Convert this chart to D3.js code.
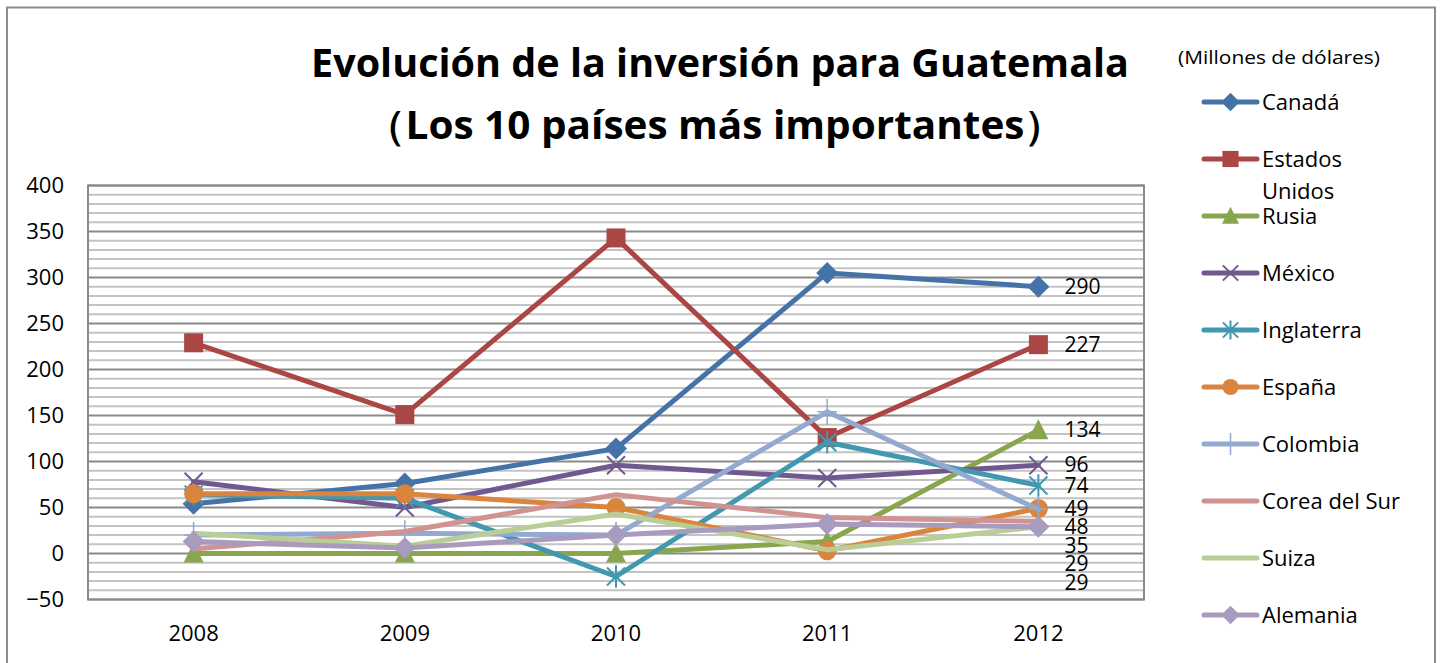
<!DOCTYPE html>
<html><head><meta charset="utf-8">
<script src="https://cdn.jsdelivr.net/npm/d3@7"></script>
<style>body{margin:0;background:#fff}svg{display:block}text{font-family:"Open Sans","Liberation Sans",sans-serif}</style>
</head><body><svg id="c" width="1443" height="663"></svg>
<script>
const years = ["2008","2009","2010","2011","2012"];
const seriesNames = ["Canadá","Estados Unidos","Rusia","México","Inglaterra","España","Colombia","Corea del Sur","Suiza","Alemania"];
const canada = [54, 76, 114, 305, 290];
const estadosUnidos = [229, 151, 343, 126, 227];
const rusia = [0, 0, 0, 13, 134];
const mexico = [78, 50, 96, 82, 96];
const inglaterra = [64, 60, -25, 121, 74];
const espana = [65, 65, 50, 3, 49];
const colombia = [20, 22, 20, 154, 48];
const corea = [5, 24, 64, 39, 35];
const suiza = [22, 8, 43, 4, 29];
const alemania = [13, 6, 20, 32, 29];
const yTicks = [-50, 0, 50, 100, 150, 200, 250, 300, 350, 400];
const colors = ["#4572A7","#AA4643","#89A54E","#71588F","#4198AF","#DB843D","#93A9CF","#D19392","#B9CD96","#A99BBD"];
const markers = ["diamond","square","triangle","x","asterisk","circle","plus","none","none","diamond"];
const values = [canada, estadosUnidos, rusia, mexico, inglaterra, espana, colombia, corea, suiza, alemania];

const svg = d3.select("#c");
svg.append("rect").attr("x",7).attr("y",7.5).attr("width",1428).attr("height",670)
  .attr("fill","none").attr("stroke","#8c8c8c").attr("stroke-width",2);

const L=88, R=1144, T=185.5, B=599.5;
const x = d3.scaleBand().domain(years).range([L,R]);
const y = d3.scaleLinear().domain([-50,400]).range([B,T]);

const minor = d3.range(-50, 401, 10);
svg.append("g").selectAll("line").data(minor.filter(v=>v%50!==0)).join("line")
  .attr("x1",L).attr("x2",R).attr("y1",d=>y(d)).attr("y2",d=>y(d))
  .attr("stroke","#c3c3c3").attr("stroke-width",2);
svg.append("g").selectAll("line").data(yTicks).join("line")
  .attr("x1",L).attr("x2",R).attr("y1",d=>y(d)).attr("y2",d=>y(d))
  .attr("stroke","#8a8a8a").attr("stroke-width",2);
svg.append("rect").attr("x",L).attr("y",T).attr("width",R-L).attr("height",B-T)
  .attr("fill","none").attr("stroke","#8a8a8a").attr("stroke-width",2);

const yAxis = d3.axisLeft(y).tickValues(yTicks).tickSize(0).tickPadding(24);
const gy = svg.append("g").attr("transform",`translate(${L},0)`).call(yAxis);
gy.select(".domain").remove();
gy.selectAll("text").attr("font-size",22).attr("fill","#000").style("font-family","'Open Sans',sans-serif");
const xAxis = d3.axisBottom(x).tickSize(0).tickPadding(26);
const gx = svg.append("g").attr("transform",`translate(0,${B})`).call(xAxis);
gx.select(".domain").remove();
gx.selectAll("text").attr("font-size",22).attr("fill","#000").style("font-family","'Open Sans',sans-serif");

const cx = d => x(d) + x.bandwidth()/2;
const line = d3.line().x((d,i)=>cx(years[i])).y(d=>y(d));

function drawMarker(g, type, color, px, py, s) {
  s = s || 1;
  if (type==="diamond") {
    const r=11*s;
    g.append("path").attr("d",`M${px},${py-r}L${px+r},${py}L${px},${py+r}L${px-r},${py}Z`).attr("fill",color);
  } else if (type==="square") {
    const r=9.5*s;
    g.append("rect").attr("x",px-r).attr("y",py-r).attr("width",2*r).attr("height",2*r).attr("fill",color);
  } else if (type==="triangle") {
    const r=10*s;
    g.append("path").attr("d",`M${px},${py-r*1.1}L${px+r},${py+r*0.9}L${px-r},${py+r*0.9}Z`).attr("fill",color);
  } else if (type==="circle") {
    g.append("circle").attr("cx",px).attr("cy",py).attr("r",9.5*s).attr("fill",color);
  } else if (type==="x") {
    const r=9*s;
    g.append("path").attr("d",`M${px-r},${py-r}L${px+r},${py+r}M${px-r},${py+r}L${px+r},${py-r}`).attr("stroke",color).attr("stroke-width",2);
  } else if (type==="asterisk") {
    const r=9*s;
    g.append("path").attr("d",`M${px-r},${py-r}L${px+r},${py+r}M${px-r},${py+r}L${px+r},${py-r}M${px},${py-r*1.25}L${px},${py+r*1.25}`).attr("stroke",color).attr("stroke-width",2);
  } else if (type==="plus") {
    const r=13*s;
    g.append("path").attr("d",`M${px},${py-r}L${px},${py+r}M${px-r*0.75},${py}L${px+r*0.75},${py}`).attr("stroke",color).attr("stroke-width",1.5);
  }
}

values.forEach((vals,k)=>{
  const g = svg.append("g");
  g.append("path").attr("d",line(vals)).attr("fill","none").attr("stroke",colors[k])
    .attr("stroke-width",5).attr("stroke-linejoin","round").attr("stroke-linecap","round");
  vals.forEach((v,i)=>drawMarker(g, markers[k], colors[k], cx(years[i]), y(v)));
});

// data labels on last point, de-overlapped downward
const labs = values.map((vals,k)=>({v:vals[vals.length-1], k, yy:y(vals[vals.length-1])}))
  .sort((a,b)=>a.yy-b.yy);
const gap = 18.5;
for (let i=1;i<labs.length;i++){ if (labs[i].yy < labs[i-1].yy+gap) labs[i].yy = labs[i-1].yy+gap; }
const lx = cx(years[years.length-1]) + 26;
svg.append("g").selectAll("text").data(labs).join("text")
  .attr("x",lx).attr("y",d=>d.yy).attr("dy","0.34em")
  .attr("font-size",21).attr("fill","#000").text(d=>d.v);

svg.append("text").attr("x",720).attr("y",77).attr("text-anchor","middle")
  .attr("font-size",40).attr("font-weight","bold").attr("textLength",818).attr("lengthAdjust","spacingAndGlyphs")
  .text("Evolución de la inversión para Guatemala");
svg.append("text").attr("x",715).attr("y",139).attr("text-anchor","middle")
  .attr("font-size",40).attr("font-weight","bold").attr("textLength",700).attr("lengthAdjust","spacingAndGlyphs")
  .text("（Los 10 países más importantes）");

svg.append("text").attr("x",1279).attr("y",64).attr("text-anchor","middle")
  .attr("font-size",19).attr("textLength",202).attr("lengthAdjust","spacingAndGlyphs").text("(Millones de dólares)");

const lg = svg.append("g");
seriesNames.forEach((name,k)=>{
  const ly = 102 + k*57;
  lg.append("line").attr("x1",1204).attr("x2",1257).attr("y1",ly).attr("y2",ly)
    .attr("stroke",colors[k]).attr("stroke-width",5).attr("stroke-linecap","round");
  drawMarker(lg, markers[k], colors[k], 1230.5, ly, 0.85);
  const t = lg.append("text").attr("x",1262).attr("y",ly).attr("dy","0.36em").attr("font-size",22).attr("fill","#000");
  if (name==="Estados Unidos") {
    t.append("tspan").attr("x",1262).text("Estados");
    t.append("tspan").attr("x",1262).attr("dy","1.45em").text("Unidos");
  } else t.text(name);
});
</script></body></html>
